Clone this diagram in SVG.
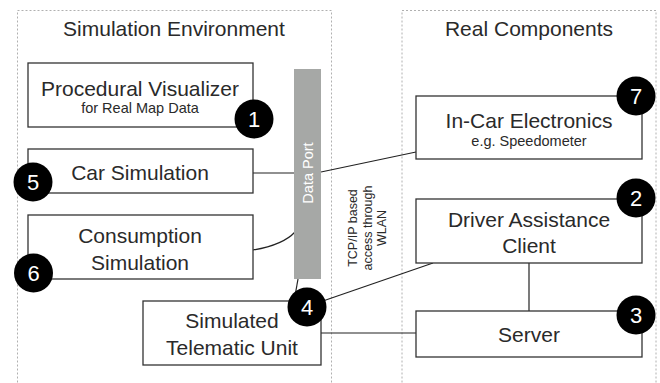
<svg xmlns="http://www.w3.org/2000/svg" width="660" height="383" viewBox="0 0 660 383">
<defs>
<style>
.c{fill:none;stroke:#b0b0b0;stroke-width:1;stroke-dasharray:2 2}
.b{fill:#fff;stroke:#333;stroke-width:1.3}
.t{font-family:"Liberation Sans",Arial,Helvetica,sans-serif;fill:#2a2a2a;text-anchor:middle}
.L{font-size:21px}
.s{font-size:14.5px}
.k{fill:#000}
.n{font-family:"Liberation Sans",Arial,Helvetica,sans-serif;fill:#fff;font-size:22px;text-anchor:middle}
.e{fill:none;stroke:#222;stroke-width:1.2}
</style>
</defs>
<rect width="660" height="383" fill="#fff"/>
<g id="sim-env">
<rect class="c" x="17.5" y="10.5" width="314" height="390"/>
<text class="t L" x="174" y="36">Simulation Environment</text>
</g>
<g id="real-comp">
<rect class="c" x="402" y="10.5" width="254" height="390"/>
<text class="t L" x="529" y="36">Real Components</text>
</g>
<g id="connectors">
<line class="e" x1="253" y1="173" x2="295" y2="173"/>
<path class="e" d="M253,250 Q283,245 295,232"/>
<line class="e" x1="321" y1="172" x2="416" y2="152"/>
<line class="e" x1="298" y1="279" x2="295" y2="296"/>
<line class="e" x1="320" y1="302" x2="433" y2="263"/>
<line class="e" x1="321" y1="333" x2="416" y2="333"/>
<line class="e" x1="529" y1="263" x2="529" y2="311"/>
</g>
<g id="data-port">
<rect x="294" y="69" width="27" height="210" fill="#a6a8a6"/>
<text class="t" x="0" y="0" transform="translate(313,173) rotate(-90)" style="font-size:14.5px;fill:#fff">Data Port</text>
</g>
<g id="tcp-label">
<text class="t" transform="translate(357,228) rotate(-90)" style="font-size:12.5px"><tspan x="0" y="0">TCP/IP based</tspan><tspan x="0" y="14.5">access through</tspan><tspan x="0" y="29">WLAN</tspan></text>
</g>
<g id="node-visualizer">
<rect class="b" x="28" y="63" width="225" height="64"/>
<text class="t L" x="140" y="96">Procedural Visualizer</text>
<text class="t s" x="140" y="113">for Real Map Data</text>
<circle class="k" cx="254" cy="119" r="19.5"/>
<text class="n" x="254" y="127">1</text>
</g>
<g id="node-car-sim">
<rect class="b" x="28" y="149" width="225" height="44"/>
<text class="t L" x="140" y="180">Car Simulation</text>
<circle class="k" cx="33" cy="182" r="19.5"/>
<text class="n" x="33" y="190">5</text>
</g>
<g id="node-consumption">
<rect class="b" x="28" y="215" width="225" height="64"/>
<text class="t L" x="140" y="243">Consumption</text>
<text class="t L" x="140" y="270">Simulation</text>
<circle class="k" cx="33.5" cy="273" r="19.5"/>
<text class="n" x="33.5" y="281">6</text>
</g>
<g id="node-telematic">
<rect class="b" x="143" y="301" width="178" height="64"/>
<text class="t L" x="232" y="328">Simulated</text>
<text class="t L" x="232" y="355">Telematic Unit</text>
<circle class="k" cx="307" cy="307" r="19.5"/>
<text class="n" x="307" y="315">4</text>
</g>
<g id="node-incar">
<rect class="b" x="416" y="96" width="226" height="63"/>
<text class="t L" x="529" y="128">In-Car Electronics</text>
<text class="t s" x="529" y="146">e.g. Speedometer</text>
<circle class="k" cx="636" cy="96" r="19.5"/>
<text class="n" x="636" y="104">7</text>
</g>
<g id="node-driver">
<rect class="b" x="416" y="199" width="226" height="64"/>
<text class="t L" x="529" y="227">Driver Assistance</text>
<text class="t L" x="529" y="253">Client</text>
<circle class="k" cx="636" cy="198" r="19.5"/>
<text class="n" x="636" y="206">2</text>
</g>
<g id="node-server">
<rect class="b" x="416" y="311" width="226" height="46"/>
<text class="t L" x="529" y="342">Server</text>
<circle class="k" cx="636" cy="315" r="19.5"/>
<text class="n" x="636" y="323">3</text>
</g>
</svg>
